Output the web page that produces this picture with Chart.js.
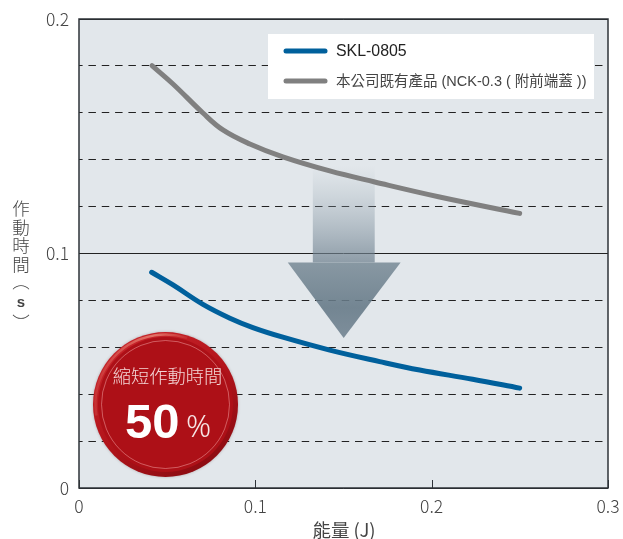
<!DOCTYPE html>
<html lang="zh-Hant">
<head>
<meta charset="utf-8">
<title>作動時間</title>
<script src="https://cdn.jsdelivr.net/npm/chart.js@4"></script>
<style>
html,body{margin:0;padding:0;background:#fff}
#wrap{position:relative;width:623px;height:539px}
</style>
</head>
<body>
<div id="wrap"><canvas id="chart"></canvas></div>
<script>
// Response time against energy for the two push-button models.
const sklEnergy = [0.0412, 0.0533, 0.0703, 0.0856, 0.0986, 0.1156, 0.1422, 0.1705, 0.1932, 0.2232, 0.2499];
const sklSeconds = [0.092, 0.0866, 0.0783, 0.0724, 0.0684, 0.0643, 0.0588, 0.0539, 0.0503, 0.0464, 0.0426];
const nckEnergy = [0.0414, 0.0533, 0.0703, 0.0816, 0.0969, 0.1156, 0.1422, 0.1677, 0.2045, 0.2499];
const nckSeconds = [0.1801, 0.1723, 0.1599, 0.1527, 0.1467, 0.1412, 0.1352, 0.1305, 0.1241, 0.1171];
const seriesNames = ['SKL-0805', '本公司既有產品 (NCK-0.3 ( 附前端蓋 ))'];
const yAxisGlyphs = ['作', '動', '時', '間', '︵', 's', '︶'];
const xAxisTitle = '能量 (J)';
const badgeCaption = '縮短作動時間';
const badgeValue = '50';
const badgeUnit = '%';

const CJK = '"Noto Sans CJK TC", "Noto Sans", sans-serif';
const BLUE = '#00609c', GRAY = '#808080', FRAME = '#2e3338';

function toPoints(xs, ys) { return xs.map((x, i) => ({ x, y: ys[i] })); }

// Plot background, drawn under the grid.
const plotBackground = {
  id: 'plotBackground',
  beforeDraw(chart) {
    const { ctx, chartArea: a } = chart;
    ctx.save();
    ctx.fillStyle = '#e2e7eb';
    ctx.fillRect(a.left, a.top, a.width, a.height);
    ctx.restore();
  }
};

// Translucent downward arrow between the two curves.
const improvementArrow = {
  id: 'improvementArrow',
  beforeDatasetsDraw(chart) {
    const { ctx, scales: { x, y } } = chart;
    const shaftL = x.getPixelForValue(0.1326), shaftR = x.getPixelForValue(0.1677);
    const headL = x.getPixelForValue(0.1184), headR = x.getPixelForValue(0.1824);
    const tipX = x.getPixelForValue(0.1501);
    const top = y.getPixelForValue(0.1375), neck = y.getPixelForValue(0.0962), tip = y.getPixelForValue(0.064);
    ctx.save();
    let g = ctx.createLinearGradient(0, top, 0, neck);
    g.addColorStop(0, 'rgba(150,166,178,0)');
    g.addColorStop(1, 'rgba(110,128,142,0.72)');
    ctx.fillStyle = g;
    ctx.fillRect(shaftL, top, shaftR - shaftL, neck - top);
    g = ctx.createLinearGradient(0, neck, 0, tip);
    g.addColorStop(0, 'rgba(120,138,150,0.85)');
    g.addColorStop(0.6, 'rgba(100,120,134,0.88)');
    g.addColorStop(1, 'rgba(112,130,144,0.88)');
    ctx.fillStyle = g;
    ctx.beginPath();
    ctx.moveTo(headL, neck);
    ctx.lineTo(headR, neck);
    ctx.lineTo(tipX, tip);
    ctx.closePath();
    ctx.fill();
    ctx.restore();
  }
};

// Frame, inward x ticks, legend box, badge and the hand-set axis captions.
const overlays = {
  id: 'overlays',
  afterDraw(chart) {
    const { ctx, chartArea: a, scales: { x } } = chart;
    ctx.save();

    // Frame and inner ticks
    ctx.strokeStyle = FRAME;
    ctx.lineWidth = 1.5;
    ctx.strokeRect(a.left, a.top, a.width, a.height);
    ctx.lineWidth = 1;
    x.ticks.forEach(t => {
      const px = Math.round(x.getPixelForValue(t.value)) + 0.5;
      ctx.beginPath();
      ctx.moveTo(px, a.bottom);
      ctx.lineTo(px, a.bottom - 8);
      ctx.stroke();
    });

    // Legend
    const lx = a.left + 189, ly = a.top + 15;
    ctx.fillStyle = '#fff';
    ctx.fillRect(lx, ly, 326, 65);
    chart.data.datasets.forEach((ds, i) => {
      const rowY = ly + 17 + i * 30;
      ctx.strokeStyle = ds.borderColor;
      ctx.lineWidth = 5;
      ctx.lineCap = 'round';
      ctx.beginPath();
      ctx.moveTo(lx + 18, rowY);
      ctx.lineTo(lx + 57, rowY);
      ctx.stroke();
      ctx.textAlign = 'left';
      ctx.textBaseline = 'middle';
      ctx.fillStyle = i === 0 ? '#222' : '#444';
      ctx.font = (i === 0 ? '15.9px ' : '14.5px ') + '"Liberation Sans", ' + CJK;
      ctx.fillText(ds.label, lx + 68, rowY + 1);
    });

    // Axis captions
    ctx.fillStyle = '#444';
    ctx.textAlign = 'center';
    ctx.textBaseline = 'middle';
    const rows = [208, 227, 245, 264, 281, 303, 322];
    yAxisGlyphs.forEach((g, i) => {
      ctx.font = (g === 's' ? 'bold 15px "Liberation Sans"' : '300 17.5px ' + CJK);
      ctx.fillText(g, 21, rows[i]);
    });
    ctx.font = '18.5px ' + CJK;
    ctx.fillText(xAxisTitle, 344, 530);

    // Badge
    const cx = 165.5, cy = 404.5, r = 72.5;
    ctx.shadowColor = 'rgba(90,60,60,0.35)';
    ctx.shadowBlur = 3;
    let g = ctx.createLinearGradient(cx - r * 0.6, cy - r, cx + r * 0.7, cy + r);
    g.addColorStop(0, '#c9252b');
    g.addColorStop(0.5, '#b2141b');
    g.addColorStop(1, '#860a10');
    ctx.fillStyle = g;
    ctx.beginPath();
    ctx.arc(cx, cy, r, 0, Math.PI * 2);
    ctx.fill();
    ctx.shadowColor = 'transparent';
    // Glossy highlight along the upper-left rim, fading out at both ends
    const gloss = ctx.createLinearGradient(cx - r, cy, cx + r * 0.4, cy);
    gloss.addColorStop(0, 'rgba(238,150,130,0.15)');
    gloss.addColorStop(0.6, 'rgba(238,150,130,0.7)');
    gloss.addColorStop(1, 'rgba(238,150,130,0)');
    ctx.strokeStyle = gloss;
    ctx.lineWidth = 2.5;
    ctx.lineCap = 'butt';
    ctx.beginPath();
    ctx.arc(cx, cy, r - 2.5, Math.PI * 0.95, Math.PI * 1.6);
    ctx.stroke();
    ctx.fillStyle = '#ad1017';
    ctx.beginPath();
    ctx.arc(cx, cy, r - 5, 0, Math.PI * 2);
    ctx.fill();
    ctx.strokeStyle = 'rgba(255,190,190,0.55)';
    ctx.lineWidth = 0.8;
    ctx.beginPath();
    ctx.arc(cx, cy, r - 8.5, 0, Math.PI * 2);
    ctx.stroke();

    ctx.textAlign = 'center';
    ctx.textBaseline = 'middle';
    ctx.fillStyle = '#f3d6d6';
    ctx.font = '300 18.3px ' + CJK;
    ctx.fillText(badgeCaption, cx + 2, 376);
    ctx.fillStyle = '#fff';
    ctx.textAlign = 'left';
    ctx.font = 'bold 49px "Liberation Sans"';
    ctx.fillText(badgeValue, 125, 424);
    ctx.fillStyle = '#f7e6e6';
    ctx.font = '300 31px "Noto Sans"';
    ctx.fillText(badgeUnit, 186, 428);

    ctx.restore();
  }
};

new Chart(document.getElementById('chart'), {
  type: 'line',
  data: {
    datasets: [
      { label: seriesNames[0], data: toPoints(sklEnergy, sklSeconds), borderColor: BLUE },
      { label: seriesNames[1], data: toPoints(nckEnergy, nckSeconds), borderColor: GRAY }
    ]
  },
  options: {
    responsive: true,
    maintainAspectRatio: false,
    animation: false,
    devicePixelRatio: 1,
    layout: { padding: { left: 0, top: 19, right: 15, bottom: 0 } },
    elements: {
      point: { radius: 0 },
      line: { borderWidth: 5, tension: 0.4, borderCapStyle: 'round', borderJoinStyle: 'round' }
    },
    plugins: { legend: { display: false }, title: { display: false }, tooltip: { enabled: false } },
    scales: {
      x: {
        type: 'linear', min: 0, max: 0.3,
        afterFit(s) { s.height = 51; s.paddingLeft = 0; s.paddingRight = 0; },
        grid: { display: false },
        border: { display: false },
        ticks: {
          stepSize: 0.1, padding: 0, maxRotation: 0,
          color: '#444',
          font: { family: CJK, size: 17.5, weight: '300' },
          callback: v => String(Math.round(v * 10) / 10)
        }
      },
      y: {
        type: 'linear', min: 0, max: 0.2,
        afterFit(s) { s.width = 79; s.paddingTop = 0; s.paddingBottom = 0; },
        border: {
          display: false,
          dash: c => (Math.round(c.tick.value * 100) % 10 === 0 ? [] : [7.5, 5.83]),
          dashOffset: 3.9
        },
        grid: {
          drawTicks: false,
          color: '#222',
          lineWidth: 1
        },
        ticks: {
          stepSize: 0.02, padding: 10,
          autoSkip: false,
          color: '#444',
          font: { family: CJK, size: 17.5, weight: '300' },
          callback: v => {
            const hundredths = Math.round(v * 100);
            return hundredths % 10 === 0 ? String(hundredths / 100) : '';
          }
        }
      }
    }
  },
  plugins: [plotBackground, improvementArrow, overlays]
});
</script>
</body>
</html>
